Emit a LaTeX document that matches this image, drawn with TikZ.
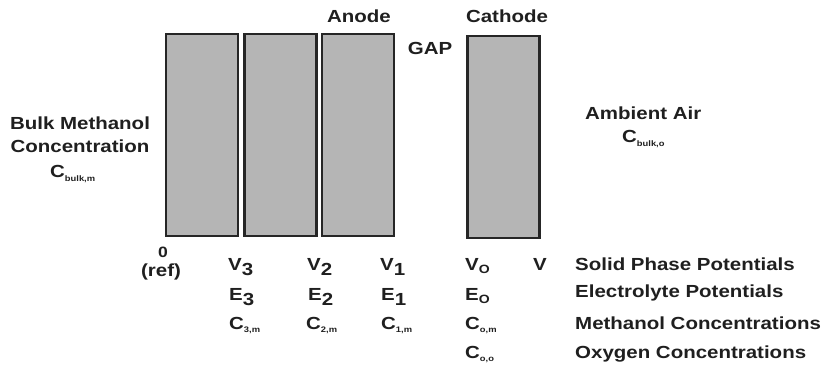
\documentclass[tikz,border=0pt]{standalone}
\usepackage{fontspec}
\setmainfont{Liberation Sans}[FakeStretch=1.17]
% subscripts: full-size digit, medium letter, tiny index
\newcommand\subbig[1]{\raisebox{-5pt}{#1}}
\newcommand\submid[1]{\raisebox{-3.5pt}{\fontsize{12}{12}\selectfont #1}}
\newcommand\subtiny[1]{\raisebox{-3.5pt}{\fontsize{8}{8}\selectfont #1}}
\begin{document}
\begin{tikzpicture}[x=1pt,y=-1pt,
  layer/.style={draw=black!85, line width=2.4pt, fill=black!29,
    minimum width=72pt, minimum height=202pt, inner sep=0pt},
  lab/.style={font=\bfseries\fontsize{17.5}{20}\selectfont, text=black!88, inner sep=0pt},
]
\useasboundingbox (0,0) rectangle (829,366);

% electrode layers
\node[layer] (l3) at (202,135) {};
\node[layer] (l2) at (280.5,135) {};
\node[layer] (l1) at (358,135) {};
\node[layer] (cat) at (503.5,137) {};

% headings
\node[lab, anchor=base] (anode) at (359,23) {Anode};
\node[lab, anchor=base] (cathode) at (507,23) {Cathode};
\node[lab, anchor=base] (gap) at (430,55) {GAP};

% boundary conditions
\node[lab, anchor=base] (bulk1) at (80,130) {Bulk Methanol};
\node[lab, anchor=base] (bulk2) at (80,153) {Concentration};
\node[lab, anchor=base west] (cbm) at (50,178) {C\subtiny{bulk,m}};
\node[lab, anchor=base west] (air) at (585,120) {Ambient Air};
\node[lab, anchor=base west] (cbo) at (622,143) {C\subtiny{bulk,o}};

% interface values
\node[lab, anchor=base, font=\bfseries\fontsize{15}{18}\selectfont] (zero) at (163,257) {0};
\node[lab, anchor=base] (ref) at (161,276) {(ref)};
\node[lab, anchor=base west] (v3) at (228,270) {V\subbig{3}};
\node[lab, anchor=base west] (e3) at (229,300) {E\subbig{3}};
\node[lab, anchor=base west] (c3) at (229,329) {C\subtiny{3,m}};
\node[lab, anchor=base west] (v2) at (307,270) {V\subbig{2}};
\node[lab, anchor=base west] (e2) at (308,300) {E\subbig{2}};
\node[lab, anchor=base west] (c2) at (306,329) {C\subtiny{2,m}};
\node[lab, anchor=base west] (v1) at (380,270) {V\subbig{1}};
\node[lab, anchor=base west] (e1) at (381,300) {E\subbig{1}};
\node[lab, anchor=base west] (c1) at (381,329) {C\subtiny{1,m}};
\node[lab, anchor=base west] (vo) at (465,270) {V\submid{O}};
\node[lab, anchor=base west] (eo) at (465,300) {E\submid{O}};
\node[lab, anchor=base west] (com) at (465,329) {C\subtiny{o,m}};
\node[lab, anchor=base west] (coo) at (465,358) {C\subtiny{o,o}};
\node[lab, anchor=base west] (v) at (533,270) {V};

% legend of rows
\node[lab, anchor=base west] (r1) at (575,270) {Solid Phase Potentials};
\node[lab, anchor=base west] (r2) at (575,297) {Electrolyte Potentials};
\node[lab, anchor=base west] (r3) at (575,329) {Methanol Concentrations};
\node[lab, anchor=base west] (r4) at (575,358) {Oxygen Concentrations};
\end{tikzpicture}
\end{document}
